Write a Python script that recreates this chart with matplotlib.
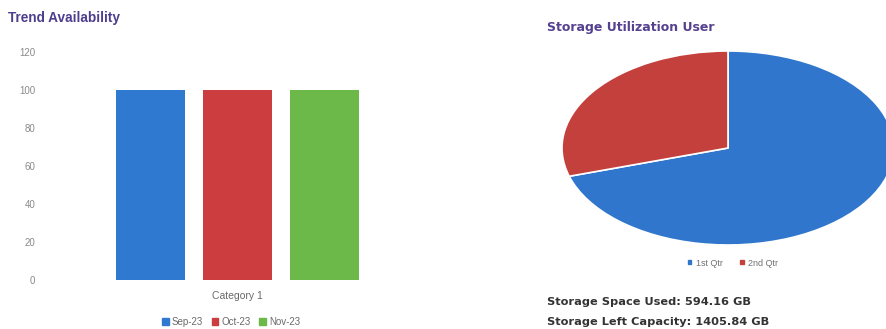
import matplotlib.pyplot as plt
from matplotlib.patches import Patch

# trend availability data
category = ['Category 1']
months = ['Sep-23', 'Oct-23', 'Nov-23']
avail = [100, 100, 100]
bar_colors = ['#2f7ad0', '#cc3d3f', '#6cb94a']
yticks = [0, 20, 40, 60, 80, 100, 120]

# storage data
qtrs = ['1st Qtr', '2nd Qtr']
storage = [1405.84, 594.16]
pie_colors = ['#2f76cc', '#c4403d']
used_gb = 594.16
left_gb = 1405.84

W, H = 886, 329
fig = plt.figure(figsize=(W / 100, H / 100), dpi=100)
plt.rcParams['font.family'] = ['Liberation Sans', 'DejaVu Sans']

def box(x0, y0, x1, y1):
    # pixel box (top-left origin) -> figure fraction
    return [x0 / W, 1 - y1 / H, (x1 - x0) / W, (y1 - y0) / H]

# ---- bar chart ----
ax = fig.add_axes(box(45, 52, 430, 280))
offs = [-0.3, 0, 0.3]
for i, m in enumerate(months):
    ax.bar(offs[i], avail[i], width=0.235, color=bar_colors[i], label=m)
ax.set_xlim(-0.664, 0.664)
ax.set_ylim(0, 120)
ax.set_yticks(yticks)
ax.set_yticklabels([str(t) for t in yticks], color='#8a8a8a', fontsize=7)
ax.set_xticks([0])
ax.set_xticklabels(category, color='#6a6a6a', fontsize=7.5)
ax.tick_params(length=0)
ax.tick_params(axis='y', pad=7)
ax.tick_params(axis='x', pad=8)
for s in ax.spines.values():
    s.set_visible(False)

fig.text(8 / W, 1 - 18 / H, 'Trend Availability', fontsize=9.8, fontweight='bold',
         color='#4e3f8e', va='center', ha='left')

handles = [Patch(color=c) for c in bar_colors]
fig.legend(handles, months, loc='center', bbox_to_anchor=(231 / W, 1 - 322 / H),
           ncol=3, frameon=False, fontsize=7, labelcolor='#6a6a6a',
           handlelength=0.7, handleheight=0.7, handletextpad=0.3, columnspacing=0.9)

# ---- pie chart ----
cx, cy, rx, ry = 728, 148, 166, 97
pax = fig.add_axes(box(cx - rx, cy - ry, cx + rx, cy + ry))
pax.pie(storage, colors=pie_colors, startangle=90, counterclock=False,
        wedgeprops=dict(edgecolor='white', linewidth=1.2))
pax.set_aspect('auto')
pax.set_xlim(-1, 1)
pax.set_ylim(-1, 1)
pax.axis('off')

fig.text(547 / W, 1 - 27 / H, 'Storage Utilization User', fontsize=9, fontweight='bold',
         color='#55418f', va='center', ha='left', family='DejaVu Sans')

handles2 = [Patch(color=c) for c in pie_colors]
fig.legend(handles2, qtrs, loc='center', bbox_to_anchor=(733 / W, 1 - 263 / H),
           ncol=2, frameon=False, fontsize=6.5, labelcolor='#707070',
           handlelength=0.35, handleheight=0.35, handletextpad=0.5, columnspacing=2.0)

fig.text(547 / W, 1 - 302 / H, f'Storage Space Used: {used_gb:.2f} GB', fontsize=8.2,
         fontweight='bold', color='#333333', va='center', ha='left', family='DejaVu Sans')
fig.text(547 / W, 1 - 322 / H, f'Storage Left Capacity: {left_gb:.2f} GB', fontsize=8.2,
         fontweight='bold', color='#333333', va='center', ha='left', family='DejaVu Sans')

fig.savefig('out.png', dpi=100)
